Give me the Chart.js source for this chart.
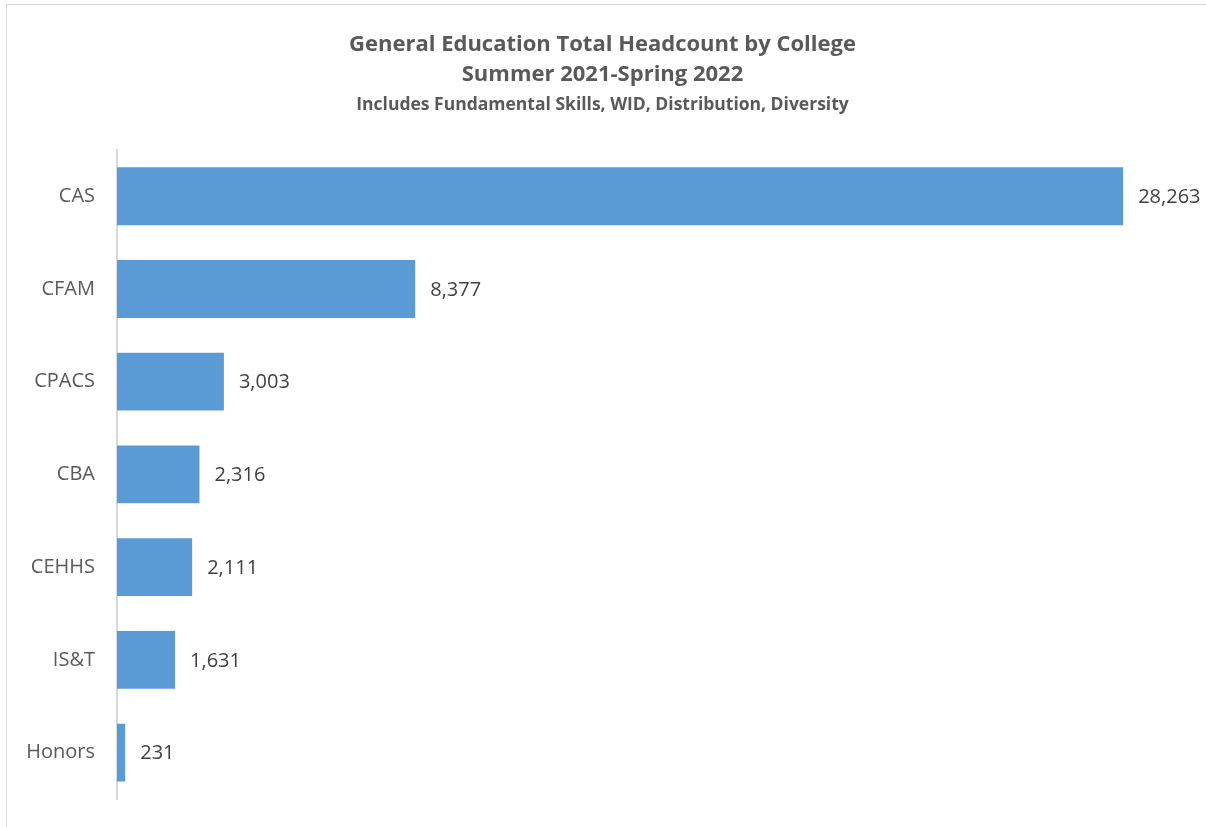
<!DOCTYPE html>
<html>
<head>
<meta charset="utf-8">
<script src="https://cdn.jsdelivr.net/npm/chart.js@4"></script>
<style>
  html, body { margin: 0; padding: 0; background: #fff; }
  #wrap { position: relative; width: 1206px; height: 827px; overflow: hidden; }
  #frame { position: absolute; left: 6px; top: 4px; width: 1300px; height: 900px; border: 1px solid #d9d9d9; box-sizing: border-box; }
  canvas { position: absolute; left: 0; top: 0; }
</style>
</head>
<body>
<div id="wrap">
  <div id="frame"></div>
  <canvas id="collegeChart" width="1206" height="827"></canvas>
</div>
<script>
// headcount per college, Summer 2021 - Spring 2022
var colleges = ['CAS', 'CFAM', 'CPACS', 'CBA', 'CEHHS', 'IS&T', 'Honors'];
var headcounts = [28263, 8377, 3003, 2316, 2111, 1631, 231];
var titleLines = ['General Education Total Headcount by College', 'Summer 2021-Spring 2022'];
var subtitleText = 'Includes Fundamental Skills, WID, Distribution, Diversity';

var FONT = "'Open Sans', 'Liberation Sans', sans-serif";

// numbers written at the end of each bar
var barValueLabels = {
    id: 'barValueLabels',
    afterDatasetsDraw: function(chart) {
        var ctx = chart.ctx;
        var meta = chart.getDatasetMeta(0);
        ctx.save();
        ctx.font = '20px ' + FONT;
        ctx.fillStyle = '#404040';
        ctx.textAlign = 'left';
        ctx.textBaseline = 'middle';
        meta.data.forEach(function(bar, i) {
            ctx.fillText(headcounts[i].toLocaleString('en-US'), bar.x + 15, bar.y + 1);
        });
        ctx.restore();
    }
};

var ctx = document.getElementById('collegeChart').getContext('2d');
var chart = new Chart(ctx, {
    type: 'bar',
    data: {
        labels: colleges,
        datasets: [{
            data: headcounts,
            backgroundColor: '#5b9bd5',
            borderWidth: 0,
            categoryPercentage: 0.624,
            barPercentage: 1
        }]
    },
    options: {
        indexAxis: 'y',
        responsive: false,
        animation: false,
        layout: {
            padding: { top: 30, left: 20, right: 21, bottom: 28 }
        },
        plugins: {
            legend: { display: false },
            tooltip: { enabled: false },
            title: {
                display: true,
                text: titleLines,
                color: '#595959',
                font: { family: FONT, size: 22, weight: 'bold', lineHeight: 1.36 },
                padding: { top: 0, bottom: 0 }
            },
            subtitle: {
                display: true,
                text: subtitleText,
                color: '#595959',
                font: { family: FONT, size: 17.5, weight: 'bold' },
                padding: { top: 5, bottom: 34 }
            }
        },
        scales: {
            x: {
                display: false,
                min: 0,
                max: 30000
            },
            y: {
                grid: { display: false, drawTicks: false },
                border: { display: true, color: '#d9d9d9', width: 2 },
                ticks: {
                    color: '#595959',
                    font: { family: FONT, size: 20 },
                    padding: 22
                },
                afterFit: function(scale) {
                    scale.width = 97;
                    // labels sit inside the category bands, no extra room needed
                    scale.paddingTop = 0;
                    scale.paddingBottom = 0;
                }
            }
        }
    },
    plugins: [barValueLabels]
});
</script>
</body>
</html>
